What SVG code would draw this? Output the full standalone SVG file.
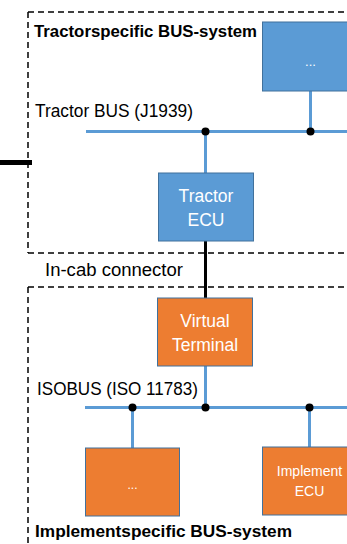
<svg xmlns="http://www.w3.org/2000/svg" width="347" height="544" viewBox="0 0 347 544">
  <style>
    .frame { fill: none; stroke: #000; stroke-width: 1.5; stroke-dasharray: 6 4; }
    .bus { fill: none; stroke: #5B9BD5; stroke-width: 3; }
    .link { fill: none; stroke: #000; stroke-width: 3; }
    .dot { fill: #000; }
    .ecu-blue { fill: #5B9BD5; stroke: #41719C; stroke-width: 1; }
    .ecu-orange { fill: #ED7D31; stroke: #41719C; stroke-width: 1; }
    .lbl { font-family: "Liberation Sans", Arial, sans-serif; fill: #000; }
    .title { font-family: "Liberation Sans", Arial, sans-serif; font-weight: bold; fill: #000; }
    .box-text { font-family: "Liberation Sans", Arial, sans-serif; fill: #fff; text-anchor: middle; }
  </style>
  <rect width="347" height="544" fill="#fff"/>

  <!-- system boundaries -->
  <g id="tractor-system">
    <path class="frame" d="M28 12 H347 M28 12 V253 M28 253 H347"/>
    <text class="title" x="34" y="37" font-size="16.5" textLength="223" lengthAdjust="spacingAndGlyphs">Tractorspecific BUS-system</text>
  </g>
  <g id="implement-system">
    <path class="frame" d="M28 287 H347 M28 287 V544"/>
    <text class="title" x="35" y="537" font-size="16.5" textLength="257" lengthAdjust="spacingAndGlyphs">Implementspecific BUS-system</text>
  </g>

  <!-- bus labels -->
  <text class="lbl" x="35" y="117" font-size="17.5" textLength="158" lengthAdjust="spacingAndGlyphs">Tractor BUS (J1939)</text>
  <text class="lbl" x="45" y="275.5" font-size="17.5" textLength="138" lengthAdjust="spacingAndGlyphs">In-cab connector</text>
  <text class="lbl" x="37" y="395" font-size="17.5" textLength="161" lengthAdjust="spacingAndGlyphs">ISOBUS (ISO 11783)</text>

  <!-- connectors -->
  <g id="connectors">
    <path d="M0 162.5 H32" stroke="#000" stroke-width="5" fill="none"/>
    <path class="bus" d="M86 131.5 H347"/>
    <path class="bus" d="M310.5 91 V131.5"/>
    <path class="bus" d="M205.5 131.5 V173"/>
    <path class="link" d="M205.5 241 V298"/>
    <path class="bus" d="M205.5 366 V407.5"/>
    <path class="bus" d="M85 407.5 H347"/>
    <path class="bus" d="M132.5 407.5 V448"/>
    <path class="bus" d="M309.5 407.5 V447"/>
    <circle class="dot" cx="205.5" cy="131.5" r="4"/>
    <circle class="dot" cx="310.5" cy="131.5" r="4"/>
    <circle class="dot" cx="132.5" cy="407.5" r="4"/>
    <circle class="dot" cx="205.5" cy="407.5" r="4"/>
    <circle class="dot" cx="309.5" cy="407.5" r="4"/>
  </g>

  <!-- tractor side nodes -->
  <g id="tractor-other">
    <rect class="ecu-blue" x="262.5" y="22" width="95" height="69"/>
    <text class="box-text" x="310.5" y="66" font-size="13">...</text>
  </g>
  <g id="tractor-ecu">
    <rect class="ecu-blue" x="158.5" y="173" width="95" height="68"/>
    <text class="box-text" x="206" y="202" font-size="17.5">Tractor</text>
    <text class="box-text" x="206" y="226" font-size="17.5">ECU</text>
  </g>

  <!-- implement side nodes -->
  <g id="virtual-terminal">
    <rect class="ecu-orange" x="157.5" y="298" width="95" height="68"/>
    <text class="box-text" x="205" y="327" font-size="17.5">Virtual</text>
    <text class="box-text" x="205" y="351" font-size="17.5">Terminal</text>
  </g>
  <g id="implement-other">
    <rect class="ecu-orange" x="85.5" y="448" width="94" height="68"/>
    <text class="box-text" x="132.5" y="489" font-size="12">...</text>
  </g>
  <g id="implement-ecu">
    <rect class="ecu-orange" x="262.5" y="447" width="95" height="68"/>
    <text class="box-text" x="309.5" y="476" font-size="14">Implement</text>
    <text class="box-text" x="309.5" y="496" font-size="14">ECU</text>
  </g>
</svg>
